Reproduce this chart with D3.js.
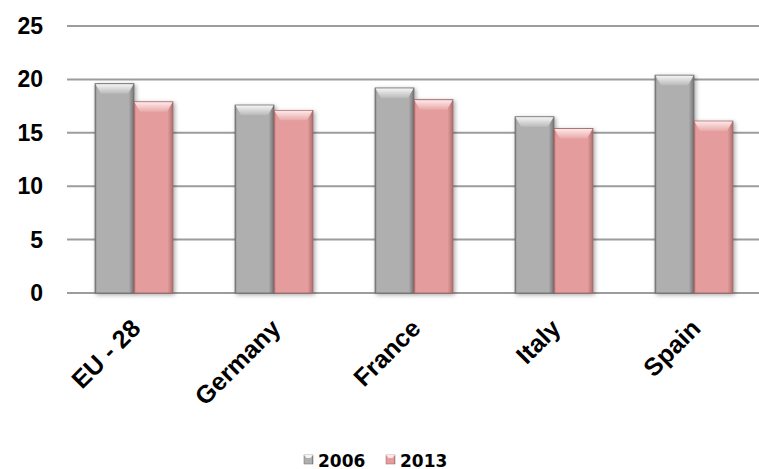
<!DOCTYPE html>
<html>
<head>
<meta charset="utf-8">
<script src="https://cdn.jsdelivr.net/npm/d3@7"></script>
<style>
  html, body { margin: 0; padding: 0; background: #ffffff; }
  svg { display: block; }
</style>
</head>
<body>
<script>
// Category labels, series names and values
const categories = ["EU - 28", "Germany", "France", "Italy", "Spain"];
const seriesNames = ["2006", "2013"];
const values2006 = [19.6, 17.6, 19.2, 16.5, 20.4];
const values2013 = [17.9, 17.1, 18.1, 15.4, 16.1];
const yTicks = [0, 5, 10, 15, 20, 25];

const W = 759, H = 469;
const svg = d3.select("body").append("svg").attr("width", W).attr("height", H);

const series = [
  { name: seriesNames[0], values: values2006, base: "#afafaf", dark: "#777777", edge: "#6a6a6a", hi: "#f4f4f4", hi2: "#bababa" },
  { name: seriesNames[1], values: values2013, base: "#e59c9c", dark: "#ad7070", edge: "#9c6464", hi: "#fee8e8", hi2: "#e9a8a8" }
];

// Scales
const x = d3.scaleBand().domain(categories).range([64, 764]).paddingInner(0.443).paddingOuter(0.2215);
const xs = d3.scaleBand().domain(seriesNames).range([0, x.bandwidth()]).padding(0);
const y = d3.scaleLinear().domain([0, 25]).range([293, 26]);

// Gradients and shadow
const defs = svg.append("defs");
const shadow = defs.append("filter").attr("id", "shadow")
  .attr("x", "-20%").attr("y", "-10%").attr("width", "150%").attr("height", "130%");
shadow.append("feDropShadow").attr("dx", 1.5).attr("dy", 1.5).attr("stdDeviation", 2)
  .attr("flood-color", "#000").attr("flood-opacity", 0.35);

series.forEach((s, i) => {
  const g = defs.append("linearGradient").attr("id", "side" + i).attr("x1", 0).attr("x2", 1).attr("y1", 0).attr("y2", 0);
  g.append("stop").attr("offset", 0).attr("stop-color", s.dark);
  g.append("stop").attr("offset", 0.05).attr("stop-color", s.base);
  g.append("stop").attr("offset", 0.86).attr("stop-color", s.base);
  g.append("stop").attr("offset", 1).attr("stop-color", s.dark);
  const t = defs.append("linearGradient").attr("id", "top" + i).attr("x1", 0).attr("x2", 0).attr("y1", 0).attr("y2", 1);
  t.append("stop").attr("offset", 0).attr("stop-color", s.hi);
  t.append("stop").attr("offset", 1).attr("stop-color", s.hi2);
});

// Gridlines
svg.append("g").selectAll("line").data(yTicks).join("line")
  .attr("x1", 67).attr("x2", W)
  .attr("y1", d => y(d)).attr("y2", d => y(d))
  .attr("stroke", "#9c9c9c").attr("stroke-width", 2);

// Y-axis labels
svg.append("g").selectAll("text").data(yTicks).join("text")
  .attr("x", 43).attr("y", d => y(d))
  .attr("text-anchor", "end").attr("dominant-baseline", "central")
  .attr("font-family", "'Liberation Sans', Arial, sans-serif")
  .attr("font-weight", "bold").attr("font-size", 23).attr("fill", "#000")
  .text(d => d);

// Bars with a bevelled top
const bevel = 10, inset = 6;
series.forEach((s, i) => {
  const grp = svg.append("g");
  categories.forEach((c, k) => {
    const v = s.values[k];
    const bx = x(c) + xs(s.name), bw = xs.bandwidth();
    const by = y(v), bh = y(0) - y(v);
    const b = grp.append("g").attr("filter", "url(#shadow)");
    b.append("rect").attr("x", bx).attr("y", by).attr("width", bw).attr("height", bh)
      .attr("fill", `url(#side${i})`).attr("stroke", s.edge).attr("stroke-width", 0.8);
    b.append("path")
      .attr("d", `M${bx + 0.5},${by + 0.5} L${bx + bw - 0.5},${by + 0.5} L${bx + bw - inset},${by + bevel} L${bx + inset},${by + bevel} Z`)
      .attr("fill", `url(#top${i})`);
  });
});

// Category labels, rotated
svg.append("g").selectAll("text").data(categories).join("text")
  .attr("transform", d => `translate(${x(d) + x.bandwidth() / 2 + 8},330) rotate(-45)`)
  .attr("text-anchor", "end")
  .attr("font-family", "'Liberation Sans', Arial, sans-serif")
  .attr("font-weight", "bold").attr("font-size", 25).attr("fill", "#000")
  .text(d => d);

// Legend
const legendX = [304, 386];
const leg = svg.append("g");
series.forEach((s, i) => {
  leg.append("rect").attr("x", legendX[i]).attr("y", 455).attr("width", 9).attr("height", 9)
    .attr("fill", `url(#side${i})`).attr("stroke", s.edge).attr("stroke-width", 0.5);
  leg.append("path")
    .attr("d", `M${legendX[i]},455 L${legendX[i] + 9},455 L${legendX[i] + 6.5},458 L${legendX[i] + 2.5},458 Z`)
    .attr("fill", s.hi);
  leg.append("text").attr("x", legendX[i] + 14).attr("y", 466.5)
    .attr("font-family", "'DejaVu Sans', Verdana, sans-serif")
    .attr("font-weight", "bold").attr("font-size", 17).attr("fill", "#000")
    .text(s.name);
});
</script>
</body>
</html>
